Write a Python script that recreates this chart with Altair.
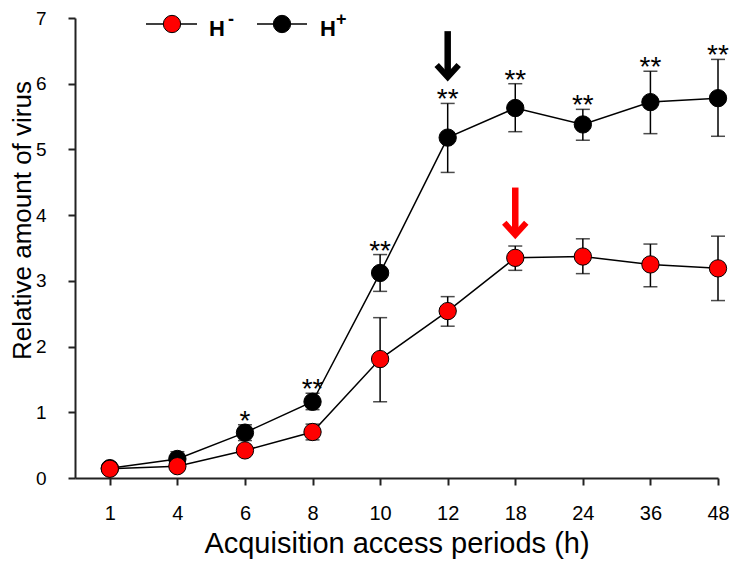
import altair as alt
import pandas as pd

# ---------------- data ----------------
HOURS = ["1", "4", "6", "8", "10", "12", "18", "24", "36", "48"]
SERIES = ["H-", "H+"]
COLORS = ["#ff0000", "#000000"]

HM_MEAN = [0.14, 0.18, 0.42, 0.70, 1.81, 2.54, 3.35, 3.37, 3.25, 3.19]
HM_LO   = [0.11, 0.15, 0.38, 0.58, 1.16, 2.31, 3.16, 3.11, 2.91, 2.70]
HM_HI   = [0.17, 0.21, 0.46, 0.82, 2.44, 2.76, 3.53, 3.64, 3.56, 3.68]

HP_MEAN = [0.15, 0.29, 0.69, 1.16, 3.12, 5.18, 5.63, 5.38, 5.72, 5.78]
HP_LO   = [0.12, 0.20, 0.57, 1.04, 2.84, 4.65, 5.27, 5.14, 5.24, 5.20]
HP_HI   = [0.18, 0.40, 0.81, 1.29, 3.40, 5.70, 6.00, 5.61, 6.19, 6.37]

STARS = ["", "", "*", "**", "**", "**", "**", "**", "**", "**"]

# arrows: category index, top value, tip value, colour
ARROW_IDX = [5, 6]
ARROW_TOP = [6.80, 4.42]
ARROW_TIP = [6.10, 3.70]
ARROW_COLOR = ["#000000", "#ff0000"]

FONT = "Liberation Sans"

rows = []
for s, means, los, his in [("H-", HM_MEAN, HM_LO, HM_HI), ("H+", HP_MEAN, HP_LO, HP_HI)]:
    for i, h in enumerate(HOURS):
        rows.append({"series": s, "idx": i, "hour": h, "mean": means[i], "lo": los[i], "hi": his[i]})
df = pd.DataFrame(rows)

stars_df = pd.DataFrame({"idx": list(range(len(HOURS))), "hi": HP_HI, "star": STARS})
stars_df = stars_df[stars_df["star"] != ""]

arrows_df = pd.DataFrame({"idx": ARROW_IDX, "top": ARROW_TOP, "tip": ARROW_TIP, "color": ARROW_COLOR})

label_expr = "[" + ",".join("'%s'" % h for h in HOURS) + "][datum.value]"

xscale = alt.Scale(domain=[-0.515, 9], nice=False, zero=False)
yscale = alt.Scale(domain=[0, 7], nice=False)

X = alt.X("idx:Q", scale=xscale,
          axis=alt.Axis(values=list(range(len(HOURS))), labelExpr=label_expr,
                        title="Acquisition access periods (h)", grid=False,
                        tickSize=7, tickWidth=2, domainWidth=2, domainColor="#222",
                        tickColor="#222", labelPadding=18, labelFontSize=20,
                        labelFont=FONT, labelColor="#000", titleFont=FONT,
                        titleFontSize=29, titleFontWeight="normal", titleColor="#000",
                        titlePadding=6, labelBaseline="top", labelFlush=False))
Y = alt.Y("mean:Q", scale=yscale,
          axis=alt.Axis(values=list(range(8)), format="d", title="Relative amount of virus",
                        grid=False, tickSize=7, tickWidth=2, domainWidth=2, domainColor="#222",
                        tickColor="#222", labelPadding=22, labelFontSize=19,
                        labelFont=FONT, labelColor="#000", titleFont=FONT,
                        titleFontSize=26, titleFontWeight="normal", titleColor="#000",
                        titleBaseline="alphabetic", titleX=-45, titleY=202, labelFlush=False))

layers = []
for s, c in zip(["H+", "H-"], ["#000000", "#ff0000"]):
    d = df[df["series"] == s]
    base = alt.Chart(d)
    err = base.mark_rule(color="black", strokeWidth=1.5).encode(
        x=alt.X("idx:Q", scale=xscale), y=alt.Y("lo:Q", scale=yscale), y2="hi:Q")
    cap_lo = base.mark_tick(color="black", thickness=1.5, size=14, orient="horizontal").encode(
        x=alt.X("idx:Q", scale=xscale), y=alt.Y("lo:Q", scale=yscale))
    cap_hi = base.mark_tick(color="black", thickness=1.5, size=14, orient="horizontal").encode(
        x=alt.X("idx:Q", scale=xscale), y=alt.Y("hi:Q", scale=yscale))
    line = base.mark_line(color="black", strokeWidth=1.5).encode(x=X, y=Y)
    pts = base.mark_point(filled=True, fill=c, stroke="black", strokeWidth=1,
                          size=300, opacity=1, shape="circle").encode(
        x=alt.X("idx:Q", scale=xscale), y=alt.Y("mean:Q", scale=yscale))
    layers += [err, cap_lo, cap_hi, line, pts]

stars = alt.Chart(stars_df).mark_text(font=FONT, fontSize=28, baseline="alphabetic",
                                      align="center", dy=5, color="black").encode(
    x=alt.X("idx:Q", scale=xscale), y=alt.Y("hi:Q", scale=yscale), text="star:N")
layers.append(stars)

shaft = alt.Chart(arrows_df).mark_rule(strokeWidth=6.5).encode(
    x=alt.X("idx:Q", scale=xscale), y=alt.Y("top:Q", scale=yscale), y2="tip:Q",
    color=alt.Color("color:N", scale=None))
head = alt.Chart(arrows_df).mark_point(shape="M-1,-1.1L0,0L1,-1.1", filled=False,
                                       strokeWidth=6, size=484, opacity=1,
                                       strokeJoin="miter", strokeMiterLimit=10).encode(
    x=alt.X("idx:Q", scale=xscale), y=alt.Y("tip:Q", scale=yscale),
    stroke=alt.Color("color:N", scale=None))
layers += [shaft, head]

# legend (manual, in pixel space of the plot area)
leg_df = pd.DataFrame({"k": [0]})
LEG = [(71, 122, 97, 134, "-", 153), (182, 232, 207, 245, "+", 261)]
for (sname, col), (lx1, lx2, cx, tx, sup, sx) in zip(zip(SERIES, COLORS), LEG):
    lb = alt.Chart(leg_df)
    layers.append(lb.mark_rule(color="black", strokeWidth=1.5).encode(
        x=alt.value(lx1), x2=alt.value(lx2), y=alt.value(6)))
    layers.append(lb.mark_point(filled=True, fill=col, stroke="black", strokeWidth=1,
                                size=300, opacity=1).encode(x=alt.value(cx), y=alt.value(6)))
    layers.append(lb.mark_text(text="H", font=FONT, fontSize=22, fontWeight="bold",
                               align="left", baseline="alphabetic", color="black").encode(
        x=alt.value(tx), y=alt.value(18)))
    layers.append(lb.mark_text(text=sup, font=FONT, fontSize=18, fontWeight="bold",
                               align="left", baseline="alphabetic", color="black").encode(
        x=alt.value(sx), y=alt.value(7)))

chart = alt.layer(*layers).properties(
    width=643, height=460,
    autosize=alt.AutoSizeParams(type="none"),
    padding={"left": 67, "top": 10, "right": 11, "bottom": 86},
).configure_view(stroke=None)

chart.save("out.html", embed_options={"renderer": "svg", "actions": False})
